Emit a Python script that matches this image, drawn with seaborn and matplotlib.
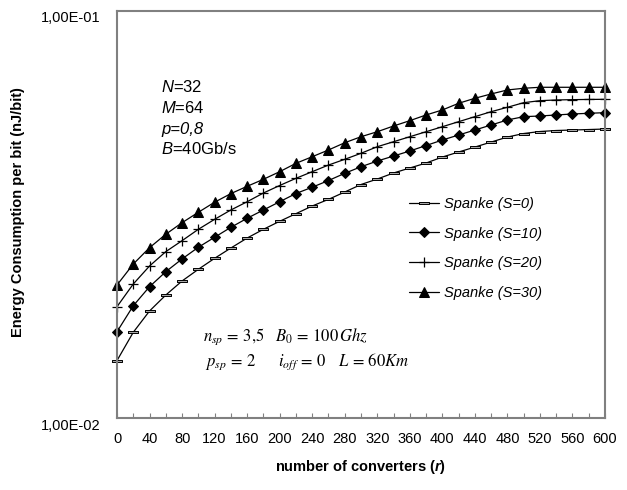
import pandas as pd
import matplotlib
matplotlib.use("Agg")
import matplotlib.pyplot as plt
import matplotlib.transforms as mtransforms
import seaborn as sns
from matplotlib.ticker import FixedLocator, FixedFormatter, NullLocator

# number of converters (r)
converters = [0, 20, 40, 60, 80, 100, 120, 140, 160, 180, 200, 220, 240, 260, 280, 300,
              320, 340, 360, 380, 400, 420, 440, 460, 480, 500, 520, 540, 560, 580, 600]

# energy per bit (nJ/bit)
spanke_s0 = [0.01384, 0.01624, 0.01832, 0.02005, 0.02171, 0.02319, 0.02468, 0.02616, 0.02768,
             0.02908, 0.03043, 0.03177, 0.03318, 0.03445, 0.03591, 0.03747, 0.03865, 0.03999,
             0.04114, 0.04231, 0.04377, 0.04503, 0.04631, 0.04764, 0.04901, 0.05000, 0.05057,
             0.05086, 0.05100, 0.05114, 0.05129]
spanke_s10 = [0.01629, 0.01887, 0.02102, 0.02288, 0.02459, 0.02627, 0.02780, 0.02941, 0.03095,
              0.03244, 0.03399, 0.03561, 0.03690, 0.03832, 0.03992, 0.04143, 0.04279, 0.04402,
              0.04529, 0.04672, 0.04819, 0.04958, 0.05100, 0.05247, 0.05398, 0.05500, 0.05521,
              0.05553, 0.05584, 0.05606, 0.05626]
spanke_s20 = [0.01877, 0.02134, 0.02363, 0.02563, 0.02727, 0.02908, 0.03077, 0.03244, 0.03399,
              0.03571, 0.03726, 0.03880, 0.04029, 0.04183, 0.04321, 0.04471, 0.04640, 0.04773,
              0.04910, 0.05051, 0.05196, 0.05346, 0.05500, 0.05657, 0.05800, 0.05953, 0.06021,
              0.06045, 0.06056, 0.06063, 0.06068]
spanke_s30 = [0.02122, 0.02389, 0.02621, 0.02828, 0.03019, 0.03202, 0.03390, 0.03559, 0.03709,
              0.03859, 0.04029, 0.04224, 0.04385, 0.04555, 0.04746, 0.04910, 0.05051, 0.05217,
              0.05377, 0.05553, 0.05712, 0.05932, 0.06103, 0.06254, 0.06397, 0.06459, 0.06495,
              0.06495, 0.06495, 0.06495, 0.06495]

series_names = ["Spanke (S=0)", "Spanke (S=10)", "Spanke (S=20)", "Spanke (S=30)"]
xtick_labels = ["0", "40", "80", "120", "160", "200", "240", "280", "320", "360",
                "400", "440", "480", "520", "560", "600"]
ytick_values = [0.01, 0.1]
ytick_labels = ["1,00E-02", "1,00E-01"]

sns.set_style("white")
plt.rcParams['font.family'] = ['Liberation Sans', 'DejaVu Sans']
plt.rcParams['text.color'] = 'black'
plt.rcParams['axes.labelcolor'] = 'black'
plt.rcParams['mathtext.fontset'] = 'custom'
plt.rcParams['mathtext.rm'] = 'Liberation Sans'
plt.rcParams['mathtext.it'] = 'Liberation Sans:italic'
plt.rcParams['mathtext.bf'] = 'Liberation Sans:bold'
plt.rcParams['mathtext.bfit'] = 'Liberation Sans:italic:bold'

# long table for seaborn
frames = []
for name, vals in zip(series_names, [spanke_s0, spanke_s10, spanke_s20, spanke_s30]):
    frames.append(pd.DataFrame({'r': converters, 'E': vals, 'Series': name}))
df = pd.concat(frames, ignore_index=True)

fig = plt.figure(figsize=(6.27, 4.9), dpi=100)
ax = fig.add_axes([117 / 627, 1 - 418 / 490, 488 / 627, 407 / 490])

dash = [(-1, -0.3), (1, -0.3), (1, 0.3), (-1, 0.3), (-1, -0.3)]
styles = {
    "Spanke (S=0)": dict(marker=dash, markersize=7, markerfacecolor='#a8a8a8',
                         markeredgecolor='black', markeredgewidth=0.7),
    "Spanke (S=10)": dict(marker='D', markersize=4.8, markerfacecolor='black',
                          markeredgecolor='black'),
    "Spanke (S=20)": dict(marker='+', markersize=7, markeredgewidth=0.9,
                          markeredgecolor='black'),
    "Spanke (S=30)": dict(marker='^', markersize=6.8, markerfacecolor='black',
                          markeredgecolor='black'),
}

for name in series_names:
    sub = df[df['Series'] == name]
    sns.lineplot(data=sub, x='r', y='E', ax=ax, color='black', linewidth=0.9,
                 label=name, clip_on=False, errorbar=None, **styles[name])

ax.set_yscale('log')
ax.set_xlim(0, 600)
ax.set_ylim(0.01, 0.1)

ax.yaxis.set_major_locator(FixedLocator(ytick_values))
ax.yaxis.set_major_formatter(FixedFormatter(ytick_labels))
ax.yaxis.set_minor_locator(NullLocator())
ax.tick_params(axis='y', which='both', length=0, pad=12, labelsize=10.5, left=True,
               labelcolor='black')

ax.set_xticks([int(s) for s in xtick_labels])
ax.set_xticklabels(xtick_labels)
ax.set_xticks(converters, minor=True)
ax.tick_params(axis='x', which='both', direction='in', length=3.5, color='#808080',
               width=0.8, bottom=True, labelcolor='black')
ax.tick_params(axis='x', which='major', pad=10, labelsize=10.5)

# excel puts the y labels a bit below the tick
shift = mtransforms.ScaledTranslation(0, -6 / 100, fig.dpi_scale_trans)
for lab in ax.get_yticklabels():
    lab.set_transform(lab.get_transform() + shift)

for sp in ax.spines.values():
    sp.set_color('#808080')
    sp.set_linewidth(1.5)

ax.set_ylabel('Energy Consumption per bit (nJ/bit)', fontsize=10.5, fontweight='bold')
ax.yaxis.set_label_coords(-0.188, 0.505)
ax.set_xlabel(r'number of converters ($\mathbfit{r}$)', fontsize=10.5, fontweight='bold')
ax.xaxis.set_label_coords(0.5, -0.098)

# parameters text
ax.text(0.091, 0.813, '$N$=32', transform=ax.transAxes, fontsize=12, va='center')
ax.text(0.091, 0.762, '$M$=64', transform=ax.transAxes, fontsize=12, va='center')
ax.text(0.091, 0.710, 'p=0,8', transform=ax.transAxes, fontsize=12, va='center',
        fontstyle='italic')
ax.text(0.091, 0.661, '$B$=40Gb/s', transform=ax.transAxes, fontsize=12, va='center')

ax.text(0.176, 0.199, r'$n_{sp}\,=\,3{,}5\quad B_0\,=\,100\,Ghz$', transform=ax.transAxes,
        fontsize=12, va='center', math_fontfamily='stix')
ax.text(0.180, 0.1376, r'$p_{sp}\,=\,2\qquad i_{off}\,=\,0\quad\, L\,=\,60Km$',
        transform=ax.transAxes, fontsize=12, va='center', math_fontfamily='stix')

ax.legend(loc='upper left', bbox_to_anchor=(0.598, 0.543), frameon=False,
          prop={'style': 'italic', 'size': 10.5}, handlelength=2.1, handletextpad=0.3,
          labelspacing=1.07, borderpad=0, borderaxespad=0)

fig.savefig('out.png', dpi=100)
